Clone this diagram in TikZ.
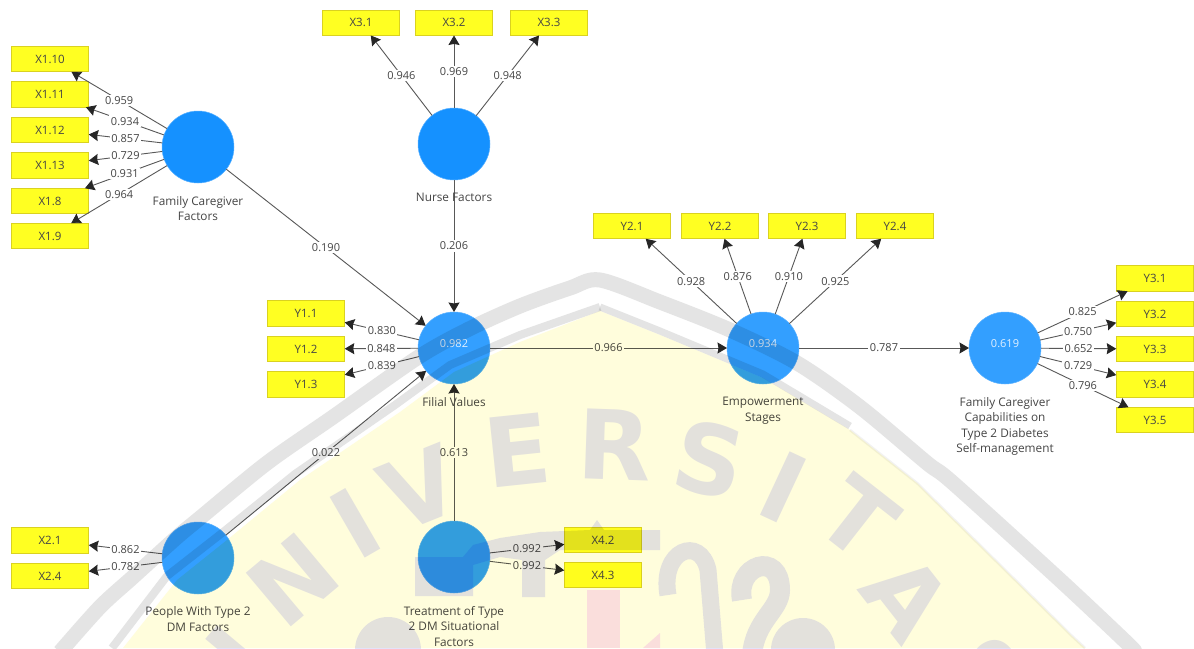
\documentclass[tikz,border=0pt]{standalone}
\usepackage{fontspec}
\setmainfont{Open Sans}
\newfontfamily\wmfont{DejaVu Sans}
\usetikzlibrary{arrows.meta}
\definecolor{wmgray}{HTML}{E4E4E4}
\definecolor{wmlet}{HTML}{E3E3FF}
\definecolor{wmyel}{HTML}{FFFDDC}
\definecolor{wmpink}{HTML}{FAE0FF}
\definecolor{boxy}{HTML}{FFFF22}
\definecolor{boxb}{HTML}{DAD220}
\definecolor{cdark}{HTML}{1591FF}
\definecolor{clight}{HTML}{339FFF}
\definecolor{ink}{HTML}{454545}
\definecolor{linec}{HTML}{585858}
\tikzset{
  indbox/.style={draw=boxb,fill=boxy,line width=0.8pt,minimum width=77.5pt,minimum height=25.5pt,inner sep=0pt,outer sep=0pt,text=ink,font=\fontsize{11.5}{13}\selectfont},
  lvbase/.style={circle,draw=cdark!70!white,line width=0.5pt,minimum size=72pt,inner sep=0pt,outer sep=0pt},
  lvd/.style={lvbase,fill=cdark},
  lvl/.style={lvbase,fill=clight},
  conn/.style={draw=linec,line width=0.9pt,-{Stealth[length=9.5pt,width=11pt,inset=1pt,color=black!85]}},
  lbl/.style={fill=white,inner sep=1.6pt,text=ink,font=\fontsize{11}{12}\selectfont,midway},
  captxt/.style={anchor=north,align=center,inner sep=0pt,text=ink,font=\fontsize{11.8}{15.6}\selectfont},
  valtxt/.style={text=white,opacity=0.85,inner sep=0pt,font=\fontsize{11}{12}\selectfont,yshift=4pt},
  wmband/.style={draw=wmgray,line width=15pt,line join=round},
  wmletter/.style={text=wmlet,inner sep=0pt,font=\wmfont\bfseries\fontsize{96}{100}\selectfont},
}
\begin{document}
\begin{tikzpicture}[x=1pt,y=-1pt]
\useasboundingbox (0,0) rectangle (1194,648);
\fill[white] (0,0) rectangle (1194,648);
% latent variables
\node[lvd] (fc) at (198,147) {};
\node[lvd] (nf) at (454,144) {};
\node[lvl] (fv) at (454,348) {};
\node[lvl] (es) at (763,348) {};
\node[lvl] (cg) at (1005,348) {};
\node[lvl] (pd) at (198,558) {};
\node[lvl] (td) at (454,557) {};
% indicators
\foreach \n/\t/\x/\y in {
 x110/X1.10/50/59, x111/X1.11/50/94.5, x112/X1.12/50/130, x113/X1.13/50/165.5, x18/X1.8/50/201, x19/X1.9/50/236,
 x31/X3.1/361/22.7, x32/X3.2/454/22.7, x33/X3.3/549/22.7,
 y21/Y2.1/632/226, y22/Y2.2/720/226, y23/Y2.3/807/226, y24/Y2.4/895/226,
 y31/Y3.1/1155/278.5, y32/Y3.2/1155/314, y33/Y3.3/1155/349, y34/Y3.4/1155/384.5, y35/Y3.5/1155/420,
 y11/Y1.1/306/313.3, y12/Y1.2/306/349, y13/Y1.3/306/384.3,
 x21/X2.1/50/540.5, x24/X2.4/50/576,
 x42/X4.2/603/540, x43/X4.3/603/575}
 {\node[indbox] (\n) at (\x,\y) {\t};}
% connectors
\foreach \a/\b/\v in {
 fc/x110/0.959, fc/x111/0.934, fc/x112/0.857, fc/x113/0.729, fc/x18/0.931, fc/x19/0.964,
 nf/x31/0.946, nf/x32/0.969, nf/x33/0.948,
 es/y21/0.928, es/y22/0.876, es/y23/0.910, es/y24/0.925,
 cg/y31/0.825, cg/y32/0.750, cg/y33/0.652, cg/y34/0.729, cg/y35/0.796,
 fv/y11/0.830, fv/y12/0.848, fv/y13/0.839,
 pd/x21/0.862, pd/x24/0.782,
 td/x42/0.992, td/x43/0.992,
 fc/fv/0.190, nf/fv/0.206, pd/fv/0.022, td/fv/0.613, fv/es/0.966, es/cg/0.787}
 {\draw[conn] (\a) -- node[lbl] {\v} (\b);}
% captions and values
\node[captxt] (cfc) at (198,196) {Family Caregiver\\Factors};
\node[captxt] (cnf) at (454,193) {Nurse Factors};
\node[captxt] (cfv) at (454,397) {Filial Values};
\node[captxt] (ces) at (763,397) {Empowerment\\Stages};
\node[captxt] (ccg) at (1005,397) {Family Caregiver\\Capabilities on\\Type 2 Diabetes\\Self-management};
\node[captxt] (cpd) at (198,606.5) {People With Type 2\\DM Factors};
\node[captxt] (ctd) at (454,606) {Treatment of Type\\2 DM Situational\\Factors};
\node[valtxt] (vfv) at (fv) {0.982};
\node[valtxt] (ves) at (es) {0.934};
\node[valtxt] (vcg) at (cg) {0.619};
% watermark, multiplied over everything
\begin{scope}[blend mode=multiply]
 \fill[wmyel] (600,311) -- (660,335) -- (763,378) -- (850,430) -- (917,483) -- (1073,637) -- (1085,648)
   -- (123,648) -- (177,580) -- (227,540) -- (300,480) -- (400,412) -- (454,372) -- (520,342) -- cycle;
 \draw[draw=wmgray,line width=8pt,line join=round] (112,648) -- (167,576) -- (222,533) -- (295,474) -- (395,405) -- (450,365) -- (520,335) -- (600,307);
 \draw[draw=wmgray,line width=7pt,line join=round] (600,307) -- (660,331) -- (763,374) -- (850,426);
 \draw[draw=wmgray!50,line width=2.5pt,line join=round] (850,430) -- (917,483) -- (1073,637) -- (1085,648);
 \draw[wmband] plot[smooth] coordinates {(60,652) (100,607) (133,577) (176,538) (200,518) (267,463) (333,417) (417,358) (467,330) (520,306) (570,288) (600,280) (660,302) (730,330) (797,363) (860,407) (927,463) (953,483) (1060,580) (1127,643) (1135,652)};
 % letters
 \node[wmletter,rotate=50] (lu) at (225,672) {U};
 \node[wmletter,rotate=40] (ln) at (293,580) {N};
 \node[wmletter,rotate=30] (li) at (355,523) {I};
 \node[wmletter,rotate=22] (lv) at (420,488) {V};
 \node[wmletter,rotate=6] (le) at (517,450) {E};
 \node[wmletter,rotate=-2] (lr) at (615,445) {R};
 \node[wmletter,rotate=-12] (ls) at (710,459) {S};
 \node[wmletter,rotate=-25] (lj) at (783,487) {I};
 \node[wmletter,rotate=-38] (lt) at (858,518) {T};
 \node[wmletter,rotate=-52] (la) at (907,597) {A};
 \node[wmletter,rotate=-60] (lz) at (985,675) {S};
 % emblem
 \fill[wmlet] (415,557) -- (463,557) -- (473,545) -- (500,538) -- (540,532) -- (590,530) -- (597,520) -- (604,530) -- (660,530) -- (660,550) -- (560,550) -- (545,560) -- (545,597) -- (522,597) -- (522,560) -- (500,557) -- (473,565) -- (473,596) -- (415,596) -- cycle;
 \draw[wmlet,line width=17pt] (668,595) .. controls (660,550) and (700,535) .. (708,570) -- (715,655);
 \draw[wmlet,line width=20pt] (742,600) .. controls (735,565) and (780,550) .. (780,590) .. controls (780,610) and (755,620) .. (752,655);
 \fill[wmlet] (803,650) circle (32);
 \fill[wmlet] (388,650) circle (33);
 \fill[wmpink] (587,590) rectangle (620,648);
 \fill[wmpink] (643,648) -- (660,633) -- (660,648) -- cycle;
\end{scope}
\end{tikzpicture}
\end{document}
